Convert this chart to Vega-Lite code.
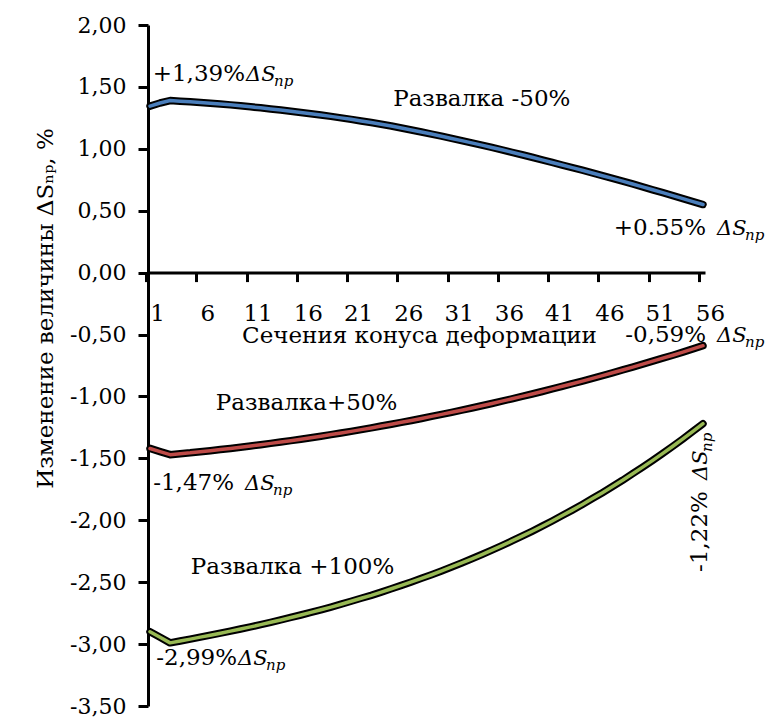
{
  "$schema": "https://vega.github.io/schema/vega-lite/v6.json",
  "width": 557,
  "height": 681,
  "autosize": "none",
  "padding": {"left": 148, "top": 25, "right": 61, "bottom": 12},
  "config": {
    "view": {"stroke": null},
    "font": "DejaVu Serif",
    "axis": {"labelFont": "DejaVu Serif", "titleFont": "DejaVu Serif", "labelColor": "black", "titleColor": "black", "titleFontWeight": "normal", "grid": false, "domainColor": "black", "tickColor": "black"},
    "text": {"font": "DejaVu Serif", "fontSize": 23, "color": "black"}
  },
  "datasets": {
    "lines": [
      {"s":"-50%","x":1,"y":1.345},{"s":"-50%","x":2,"y":1.37},{"s":"-50%","x":3,"y":1.39},{"s":"-50%","x":4,"y":1.385},{"s":"-50%","x":5,"y":1.38},{"s":"-50%","x":6,"y":1.374},{"s":"-50%","x":7,"y":1.368},{"s":"-50%","x":8,"y":1.362},{"s":"-50%","x":9,"y":1.355},{"s":"-50%","x":10,"y":1.347},{"s":"-50%","x":11,"y":1.339},{"s":"-50%","x":12,"y":1.331},{"s":"-50%","x":13,"y":1.322},{"s":"-50%","x":14,"y":1.313},{"s":"-50%","x":15,"y":1.304},{"s":"-50%","x":16,"y":1.294},{"s":"-50%","x":17,"y":1.284},{"s":"-50%","x":18,"y":1.273},{"s":"-50%","x":19,"y":1.262},{"s":"-50%","x":20,"y":1.25},{"s":"-50%","x":21,"y":1.238},{"s":"-50%","x":22,"y":1.225},{"s":"-50%","x":23,"y":1.212},{"s":"-50%","x":24,"y":1.198},{"s":"-50%","x":25,"y":1.184},{"s":"-50%","x":26,"y":1.168},{"s":"-50%","x":27,"y":1.152},{"s":"-50%","x":28,"y":1.136},{"s":"-50%","x":29,"y":1.119},{"s":"-50%","x":30,"y":1.102},{"s":"-50%","x":31,"y":1.084},{"s":"-50%","x":32,"y":1.066},{"s":"-50%","x":33,"y":1.048},{"s":"-50%","x":34,"y":1.03},{"s":"-50%","x":35,"y":1.011},{"s":"-50%","x":36,"y":0.992},{"s":"-50%","x":37,"y":0.972},{"s":"-50%","x":38,"y":0.952},{"s":"-50%","x":39,"y":0.932},{"s":"-50%","x":40,"y":0.911},{"s":"-50%","x":41,"y":0.89},{"s":"-50%","x":42,"y":0.869},{"s":"-50%","x":43,"y":0.848},{"s":"-50%","x":44,"y":0.827},{"s":"-50%","x":45,"y":0.805},{"s":"-50%","x":46,"y":0.783},{"s":"-50%","x":47,"y":0.761},{"s":"-50%","x":48,"y":0.739},{"s":"-50%","x":49,"y":0.716},{"s":"-50%","x":50,"y":0.693},{"s":"-50%","x":51,"y":0.669},{"s":"-50%","x":52,"y":0.646},{"s":"-50%","x":53,"y":0.622},{"s":"-50%","x":54,"y":0.598},{"s":"-50%","x":55,"y":0.574},{"s":"-50%","x":56,"y":0.55},
      {"s":"+50%","x":1,"y":-1.42},{"s":"+50%","x":2,"y":-1.445},{"s":"+50%","x":3,"y":-1.47},{"s":"+50%","x":4,"y":-1.462},{"s":"+50%","x":5,"y":-1.455},{"s":"+50%","x":6,"y":-1.446},{"s":"+50%","x":7,"y":-1.438},{"s":"+50%","x":8,"y":-1.429},{"s":"+50%","x":9,"y":-1.42},{"s":"+50%","x":10,"y":-1.41},{"s":"+50%","x":11,"y":-1.4},{"s":"+50%","x":12,"y":-1.39},{"s":"+50%","x":13,"y":-1.379},{"s":"+50%","x":14,"y":-1.368},{"s":"+50%","x":15,"y":-1.357},{"s":"+50%","x":16,"y":-1.345},{"s":"+50%","x":17,"y":-1.333},{"s":"+50%","x":18,"y":-1.321},{"s":"+50%","x":19,"y":-1.308},{"s":"+50%","x":20,"y":-1.295},{"s":"+50%","x":21,"y":-1.282},{"s":"+50%","x":22,"y":-1.268},{"s":"+50%","x":23,"y":-1.254},{"s":"+50%","x":24,"y":-1.239},{"s":"+50%","x":25,"y":-1.224},{"s":"+50%","x":26,"y":-1.209},{"s":"+50%","x":27,"y":-1.194},{"s":"+50%","x":28,"y":-1.178},{"s":"+50%","x":29,"y":-1.161},{"s":"+50%","x":30,"y":-1.145},{"s":"+50%","x":31,"y":-1.128},{"s":"+50%","x":32,"y":-1.111},{"s":"+50%","x":33,"y":-1.093},{"s":"+50%","x":34,"y":-1.075},{"s":"+50%","x":35,"y":-1.057},{"s":"+50%","x":36,"y":-1.038},{"s":"+50%","x":37,"y":-1.019},{"s":"+50%","x":38,"y":-0.999},{"s":"+50%","x":39,"y":-0.98},{"s":"+50%","x":40,"y":-0.96},{"s":"+50%","x":41,"y":-0.939},{"s":"+50%","x":42,"y":-0.918},{"s":"+50%","x":43,"y":-0.897},{"s":"+50%","x":44,"y":-0.876},{"s":"+50%","x":45,"y":-0.854},{"s":"+50%","x":46,"y":-0.832},{"s":"+50%","x":47,"y":-0.809},{"s":"+50%","x":48,"y":-0.786},{"s":"+50%","x":49,"y":-0.763},{"s":"+50%","x":50,"y":-0.739},{"s":"+50%","x":51,"y":-0.715},{"s":"+50%","x":52,"y":-0.691},{"s":"+50%","x":53,"y":-0.667},{"s":"+50%","x":54,"y":-0.642},{"s":"+50%","x":55,"y":-0.616},{"s":"+50%","x":56,"y":-0.59},
      {"s":"+100%","x":1,"y":-2.9},{"s":"+100%","x":2,"y":-2.945},{"s":"+100%","x":3,"y":-2.99},{"s":"+100%","x":4,"y":-2.975},{"s":"+100%","x":5,"y":-2.96},{"s":"+100%","x":6,"y":-2.944},{"s":"+100%","x":7,"y":-2.928},{"s":"+100%","x":8,"y":-2.912},{"s":"+100%","x":9,"y":-2.895},{"s":"+100%","x":10,"y":-2.878},{"s":"+100%","x":11,"y":-2.861},{"s":"+100%","x":12,"y":-2.843},{"s":"+100%","x":13,"y":-2.824},{"s":"+100%","x":14,"y":-2.805},{"s":"+100%","x":15,"y":-2.785},{"s":"+100%","x":16,"y":-2.765},{"s":"+100%","x":17,"y":-2.744},{"s":"+100%","x":18,"y":-2.723},{"s":"+100%","x":19,"y":-2.701},{"s":"+100%","x":20,"y":-2.678},{"s":"+100%","x":21,"y":-2.654},{"s":"+100%","x":22,"y":-2.63},{"s":"+100%","x":23,"y":-2.606},{"s":"+100%","x":24,"y":-2.58},{"s":"+100%","x":25,"y":-2.553},{"s":"+100%","x":26,"y":-2.526},{"s":"+100%","x":27,"y":-2.498},{"s":"+100%","x":28,"y":-2.469},{"s":"+100%","x":29,"y":-2.44},{"s":"+100%","x":30,"y":-2.409},{"s":"+100%","x":31,"y":-2.377},{"s":"+100%","x":32,"y":-2.345},{"s":"+100%","x":33,"y":-2.311},{"s":"+100%","x":34,"y":-2.277},{"s":"+100%","x":35,"y":-2.241},{"s":"+100%","x":36,"y":-2.205},{"s":"+100%","x":37,"y":-2.167},{"s":"+100%","x":38,"y":-2.128},{"s":"+100%","x":39,"y":-2.089},{"s":"+100%","x":40,"y":-2.048},{"s":"+100%","x":41,"y":-2.006},{"s":"+100%","x":42,"y":-1.962},{"s":"+100%","x":43,"y":-1.918},{"s":"+100%","x":44,"y":-1.872},{"s":"+100%","x":45,"y":-1.825},{"s":"+100%","x":46,"y":-1.777},{"s":"+100%","x":47,"y":-1.727},{"s":"+100%","x":48,"y":-1.677},{"s":"+100%","x":49,"y":-1.624},{"s":"+100%","x":50,"y":-1.571},{"s":"+100%","x":51,"y":-1.516},{"s":"+100%","x":52,"y":-1.46},{"s":"+100%","x":53,"y":-1.402},{"s":"+100%","x":54,"y":-1.343},{"s":"+100%","x":55,"y":-1.282},{"s":"+100%","x":56,"y":-1.22}
    ],
    "notes": [
      {"x": 34.0, "y": 1.346, "t": "Развалка -50%"},
      {"x": 16.57, "y": -1.11, "t": "Развалка+50%"},
      {"x": 15.18, "y": -2.435, "t": "Развалка +100%"}
    ],
    "pctTight": [
      {"x": 10.55, "y": 1.549, "t": "+1,39%"},
      {"x": 9.76, "y": -3.17, "t": "-2,99%"}
    ],
    "pctGap": [
      {"x": 57.4, "y": 0.304, "t": "+0.55%"},
      {"x": 57.4, "y": -0.558, "t": "-0,59%"},
      {"x": 10.45, "y": -1.756, "t": "-1,47%"}
    ],
    "pctRot": [
      {"x": 56.4, "y": -1.675, "t": "-1,22%"}
    ]
  },
  "encoding": {
    "x": {"field": "x", "type": "quantitative", "scale": {"domain": [0.8, 56.2], "nice": false, "zero": false}},
    "y": {"field": "y", "type": "quantitative", "scale": {"domain": [-3.5, 2], "nice": false, "zero": false}}
  },
  "layer": [
    {
      "data": {"name": "lines"},
      "mark": {"type": "line", "color": "black", "strokeWidth": 7.5, "strokeCap": "round", "strokeJoin": "round"},
      "encoding": {
        "detail": {"field": "s"},
        "x": {"field": "x", "type": "quantitative", "axis": {
          "orient": "bottom", "offset": -433.4, "values": [1,6,11,16,21,26,31,36,41,46,51,56],
          "title": "Сечения конуса деформации", "titleFontSize": 23, "titleX": 271, "titleY": 70, "titleAlign": "center", "titleBaseline": "alphabetic", "titleAnchor": "middle",
          "labelFontSize": 23, "labelBaseline": "alphabetic", "labelPadding": 39, "labelOffset": 11, "tickOffset": -4,
          "tickSize": 9, "tickWidth": 3, "domainWidth": 3, "labelFlush": false, "labelOverlap": false
        }},
        "y": {"field": "y", "type": "quantitative", "axis": {
          "orient": "left", "values": [-3.5,-3,-2.5,-2,-1.5,-1,-0.5,0,0.5,1,1.5,2],
          "labelExpr": "(datum.value < 0 ? '-' : '') + replace(format(abs(datum.value), '.2f'), '.', ',')",
          "labelFontSize": 22, "labelPadding": 12, "tickSize": 10, "tickWidth": 3, "domainWidth": 3,
          "title": "Изменение величины ΔSₙₚ, %", "titleFontSize": 23, "titleAngle": 270, "titleX": -91, "titleY": 283, "titleAlign": "center", "titleBaseline": "bottom", "titleAnchor": "middle",
          "labelFlush": false, "labelOverlap": false
        }}
      }
    },
    {
      "data": {"name": "lines"},
      "mark": {"type": "line", "strokeWidth": 3.5, "strokeCap": "round", "strokeJoin": "round"},
      "encoding": {
        "color": {"field": "s", "type": "nominal", "legend": null, "scale": {"domain": ["-50%", "+50%", "+100%"], "range": ["#4A7EBB", "#BE4B48", "#98B954"]}}
      }
    },
    {
      "data": {"name": "notes"},
      "mark": {"type": "text", "align": "center", "baseline": "alphabetic"},
      "encoding": {"text": {"field": "t"}}
    },
    {
      "data": {"name": "pctTight"},
      "mark": {"type": "text", "align": "right", "baseline": "alphabetic", "dx": -1},
      "encoding": {"text": {"field": "t"}}
    },
    {
      "data": {"name": "pctTight"},
      "mark": {"type": "text", "align": "left", "baseline": "alphabetic", "fontStyle": "italic", "fontSize": 21, "text": "ΔS"},
      "encoding": {}
    },
    {
      "data": {"name": "pctTight"},
      "mark": {"type": "text", "align": "left", "baseline": "alphabetic", "fontStyle": "italic", "fontSize": 15, "dx": 28, "dy": 5, "text": "пр"},
      "encoding": {}
    },
    {
      "data": {"name": "pctGap"},
      "mark": {"type": "text", "align": "right", "baseline": "alphabetic", "dx": -11},
      "encoding": {"text": {"field": "t"}}
    },
    {
      "data": {"name": "pctGap"},
      "mark": {"type": "text", "align": "left", "baseline": "alphabetic", "fontStyle": "italic", "fontSize": 21, "text": "ΔS"},
      "encoding": {}
    },
    {
      "data": {"name": "pctGap"},
      "mark": {"type": "text", "align": "left", "baseline": "alphabetic", "fontStyle": "italic", "fontSize": 15, "dx": 28, "dy": 5, "text": "пр"},
      "encoding": {}
    },
    {
      "data": {"name": "pctRot"},
      "mark": {"type": "text", "align": "right", "baseline": "alphabetic", "angle": 270, "dx": -11},
      "encoding": {"text": {"field": "t"}}
    },
    {
      "data": {"name": "pctRot"},
      "mark": {"type": "text", "align": "left", "baseline": "alphabetic", "angle": 270, "fontStyle": "italic", "fontSize": 21, "text": "ΔS"},
      "encoding": {}
    },
    {
      "data": {"name": "pctRot"},
      "mark": {"type": "text", "align": "left", "baseline": "alphabetic", "angle": 270, "fontStyle": "italic", "fontSize": 15, "dx": 28, "dy": 5, "text": "пр"},
      "encoding": {}
    }
  ]
}
